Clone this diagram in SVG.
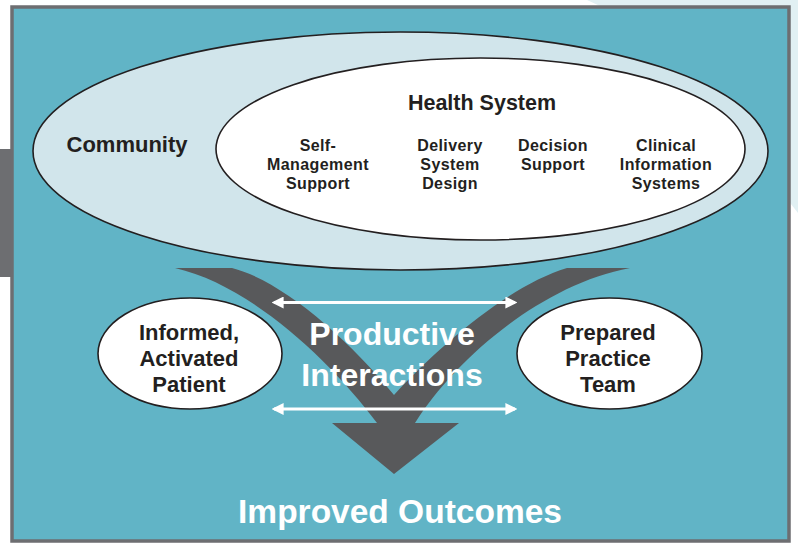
<svg xmlns="http://www.w3.org/2000/svg" width="798" height="544" viewBox="0 0 798 544">
  <style>
    .dark { font-family: "Liberation Sans", Arial, sans-serif; font-weight: bold; fill: #231f20; text-anchor: middle; }
    .light { font-family: "Liberation Sans", Arial, sans-serif; font-weight: bold; fill: #ffffff; text-anchor: middle; }
    .small { font-size: 16px; letter-spacing: 0.4px; }
    .oval { stroke: #231f20; stroke-width: 1.6; }
    .dbl { stroke: #ffffff; stroke-width: 3; fill: none; marker-start: url(#head); marker-end: url(#head); }
  </style>
  <defs>
    <marker id="head" viewBox="0 0 10 10" refX="8" refY="5" markerWidth="4" markerHeight="4" orient="auto-start-reverse" markerUnits="strokeWidth">
      <path d="M0,0 L10,5 L0,10 Z" fill="#ffffff"/>
    </marker>
  </defs>

  <!-- page decorations -->
  <rect x="0" y="0" width="798" height="544" fill="#ffffff"/>
  <polygon points="587,0 798,0 798,213 780,190 600,6" fill="#e1f0f3"/>
  <rect x="0" y="149" width="14" height="128" fill="#6d6e71"/>

  <!-- main panel -->
  <rect x="12" y="7" width="777" height="534" fill="#61b4c6" stroke="#6d6e71" stroke-width="3.5"/>

  <g id="community">
    <ellipse cx="400.5" cy="151" rx="367.5" ry="119" fill="#d1e5eb" class="oval"/>
    <text class="dark" x="127" y="152" font-size="22">Community</text>
  </g>

  <g id="health-system">
    <ellipse cx="480.5" cy="149" rx="264.5" ry="91" fill="#ffffff" class="oval"/>
    <text class="dark" x="482" y="110" font-size="21.5">Health System</text>
  </g>

  <g id="self-management-support">
    <text class="dark small" x="318" y="151">Self-</text>
    <text class="dark small" x="318" y="170">Management</text>
    <text class="dark small" x="318" y="189">Support</text>
  </g>
  <g id="delivery-system-design">
    <text class="dark small" x="450" y="151">Delivery</text>
    <text class="dark small" x="450" y="170">System</text>
    <text class="dark small" x="450" y="189">Design</text>
  </g>
  <g id="decision-support">
    <text class="dark small" x="553" y="151">Decision</text>
    <text class="dark small" x="553" y="170">Support</text>
  </g>
  <g id="clinical-information-systems">
    <text class="dark small" x="666" y="151">Clinical</text>
    <text class="dark small" x="666" y="170">Information</text>
    <text class="dark small" x="666" y="189">Systems</text>
  </g>

  <!-- converging arrow -->
  <g id="productive-interactions">
    <path d="M175,268 L232,268 C280,280 345,335 394,395 C440,345 510,285 567,268 L630,268 C540,285 455,360 415,423 L459,423 L394,474 L332,423 L377,423 C330,360 250,285 175,268 Z" fill="#58595b"/>
    <text class="light" x="392" y="345" font-size="32">Productive</text>
    <text class="light" x="392" y="386" font-size="32">Interactions</text>
  </g>

  <g id="connectors">
    <line class="dbl" x1="274" y1="302.5" x2="515" y2="302.5"/>
    <line class="dbl" x1="274" y1="409" x2="515" y2="409"/>
  </g>

  <g id="informed-activated-patient">
    <ellipse cx="190" cy="353.5" rx="92" ry="55.5" fill="#ffffff" class="oval"/>
    <text class="dark" x="189" y="340" font-size="22">Informed,</text>
    <text class="dark" x="189" y="366" font-size="22">Activated</text>
    <text class="dark" x="189" y="392" font-size="22">Patient</text>
  </g>

  <g id="prepared-practice-team">
    <ellipse cx="609.5" cy="353.5" rx="92.5" ry="55.5" fill="#ffffff" class="oval"/>
    <text class="dark" x="608" y="340" font-size="22">Prepared</text>
    <text class="dark" x="608" y="366" font-size="22">Practice</text>
    <text class="dark" x="608" y="392" font-size="22">Team</text>
  </g>

  <g id="improved-outcomes">
    <text class="light" x="400" y="523" font-size="33.5">Improved Outcomes</text>
  </g>
</svg>
